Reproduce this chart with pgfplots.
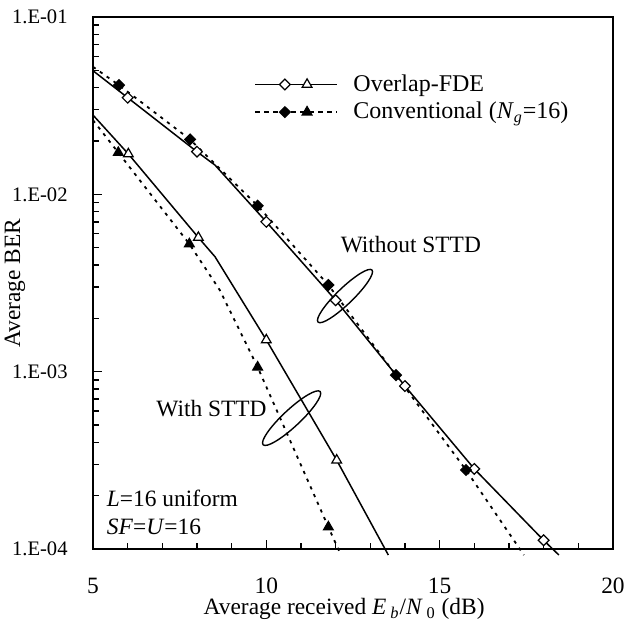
\documentclass[border=0pt]{standalone}
\usepackage{fontspec}
\setmainfont{Liberation Serif}
\usepackage{pgfplots}
\pgfplotsset{compat=1.18}
\usetikzlibrary{shapes.geometric}

\begin{document}
\begin{tikzpicture}
\begin{axis}[
  width=260pt, height=266pt, scale only axis,
  xmin=5, xmax=20, ymin=1e-4, ymax=1e-1, ymode=log,
  clip=false,
  font=\fontsize{11.7}{14}\selectfont,
  xtick={5,10,15,20}, minor x tick num=4,
  ytick={1e-4,1e-3,1e-2,1e-1},
  yticklabels={1.E-04,1.E-03,1.E-02,1.E-01},
  tick align=inside, tick pos=left,
  major tick length=4.5pt, minor tick length=2.8pt,
  axis line style={line width=1pt},
  every tick/.style={black, line width=0.7pt},
  /pgf/number format/assume math mode=true,
  xticklabel style={inner sep=0pt, yshift=-14.5pt},
  yticklabel style={inner sep=0pt, xshift=-12.5pt, font=\fontsize{10.3}{12}\selectfont},
  xlabel={Average received \textit{E}\,\textsubscript{\textit{b}}/\textit{N}\,\textsubscript{0} (dB)},
  ylabel={Average BER},
  xlabel style={at={(axis description cs:0.483,-0.113)}, anchor=center, inner sep=0pt},
  ylabel style={at={(axis description cs:-0.15,0.5)}, anchor=center, inner sep=0pt},
  legend style={draw=none, fill=none, at={(axis description cs:0.31,0.9)}, anchor=north west, row sep=0pt, inner sep=0pt, font=\fontsize{12}{14}\selectfont},
  legend cell align=left,
]
\addlegendimage{legend image code/.code={
  \path[draw=none,fill=none] (0pt,0pt)--(47pt,0pt);
  \draw[black,line width=0.75pt] (0pt,0pt)--(41pt,0pt);
  \path[draw=black,fill=white,line width=0.6pt] plot[mark=square*,mark size=1.9pt,mark options={rotate=45}] coordinates{(14.7pt,0pt)};
  \path[draw=black,fill=white,line width=0.6pt] plot[mark=triangle*,mark size=2.8pt] coordinates{(25.8pt,0pt)};
}}
\addlegendimage{legend image code/.code={
  \path[draw=none,fill=none] (0pt,0pt)--(47pt,0pt);
  \draw[black,line width=0.9pt,dash pattern=on 2.5pt off 2pt] (0pt,0pt)--(41pt,0pt);
  \path[draw=black,fill=black,line width=0.6pt] plot[mark=square*,mark size=1.9pt,mark options={rotate=45}] coordinates{(14.7pt,0pt)};
  \path[draw=black,fill=black,line width=0.6pt] plot[mark=triangle*,mark size=2.8pt] coordinates{(25.8pt,0pt)};
}}

% Without STTD, Overlap-FDE (line)
\addplot[black, line width=0.75pt, forget plot] coordinates {
(5,0.0498) (6,0.0351) (8,0.0174) (8.52,0.01462) (10,0.0070) (12,0.00253) (14,8.3e-4) (16,2.83e-4) (18,1.12e-4) (18.44,9.25e-5)};
% Without STTD, Conventional (line)
\addplot[black, line width=0.9pt, dash pattern=on 1.6pt off 2.6pt, forget plot] coordinates {
(5,0.0524) (5.75,0.0413) (7.8,0.0204) (9.75,0.00863) (11.79,0.00308) (13.74,9.57e-4) (15.76,2.79e-4) (17.43,9.25e-5)};
% With STTD, Overlap-FDE (line)
\addplot[black, line width=0.75pt, forget plot] coordinates {
(5,0.028) (6.02,0.0169) (8.04,0.00571) (8.52,0.00445) (10,0.00151) (12.03,3.17e-4) (13.52,9.25e-5)};
% With STTD, Conventional (line)
\addplot[black, line width=0.9pt, dash pattern=on 1.6pt off 2.6pt, forget plot] coordinates {
(5,0.0262) (5.73,0.0172) (7.78,0.00525) (8.66,0.00288) (9.75,0.00106) (11.79,1.33e-4) (12.15,9.27e-5)};

% markers
\addplot[only marks, mark=square*, mark size=1.9pt, mark options={rotate=45, fill=white, draw=black, line width=0.6pt}, forget plot] coordinates {
(6,0.0351) (8,0.0174) (10,0.0070) (12,0.00253) (14,8.3e-4) (16,2.83e-4) (18,1.12e-4)};
\addplot[only marks, mark=square*, mark size=1.9pt, mark options={rotate=45, fill=black, draw=black, line width=0.6pt}, forget plot] coordinates {
(5.75,0.0413) (7.8,0.0204) (9.75,0.00863) (11.79,0.00308) (13.74,9.57e-4) (15.76,2.79e-4)};
\addplot[only marks, mark=triangle*, mark size=2.8pt, mark options={fill=white, draw=black, line width=0.6pt}, forget plot] coordinates {
(6.02,0.0169) (8.04,0.00571) (10,0.00151) (12.03,3.17e-4)};
\addplot[only marks, mark=triangle*, mark size=2.8pt, mark options={fill=black, draw=black, line width=0.6pt}, forget plot] coordinates {
(5.73,0.0172) (7.78,0.00525) (9.75,0.00106) (11.79,1.33e-4)};

% annotations
\node[draw, ellipse, line width=0.7pt, minimum width=37.5pt, minimum height=8pt, inner sep=0pt, rotate=44] at (axis cs:12.27,0.00267) {};
\node[draw, ellipse, line width=0.7pt, minimum width=39pt, minimum height=8.5pt, inner sep=0pt, rotate=43] at (axis cs:10.73,5.47e-4) {};
\node at (axis cs:14.17,5.18e-3) {Without STTD};
\node at (axis cs:8.42,6.21e-4) {With STTD};
\node[anchor=west, inner sep=0pt] at (axis cs:5.39,1.94e-4) {\textit{L}=16 uniform};
\node[anchor=west, inner sep=0pt] at (axis cs:5.39,1.33e-4) {\textit{SF}=\textit{U}=16};

\path (rel axis cs:-0.1788,-0.1391) rectangle (rel axis cs:1.0231,1.032);

\legend{Overlap-FDE, Conventional (\textit{N}\textsubscript{\textit{g}}=16)}
\end{axis}
\end{tikzpicture}
\end{document}
